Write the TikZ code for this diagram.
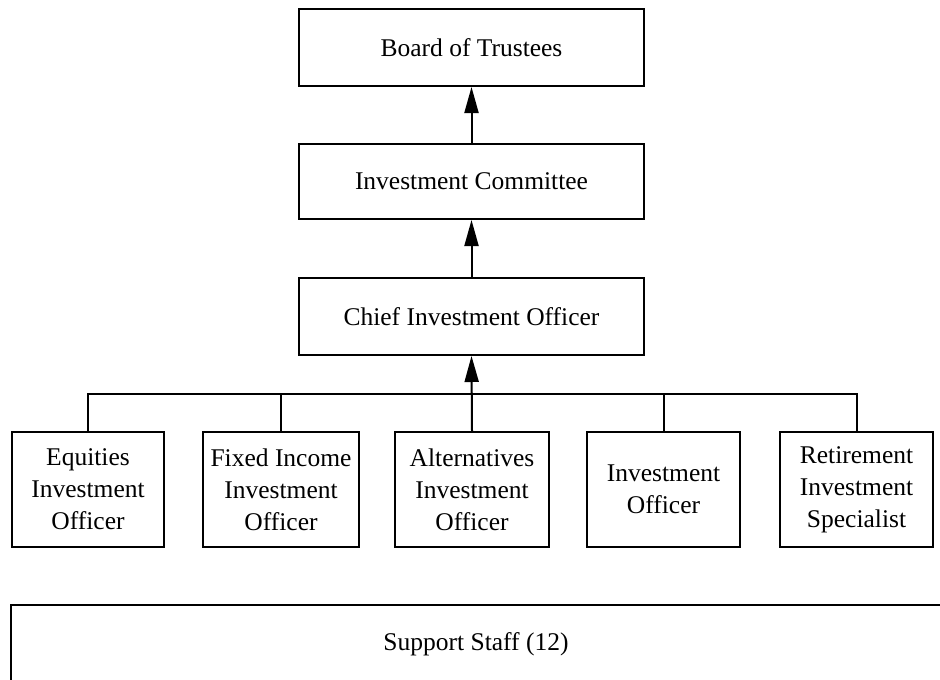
\documentclass[tikz,border=0pt]{standalone}
\usepackage{fontspec}
\setmainfont{Liberation Serif}
\usetikzlibrary{arrows.meta}
\begin{document}
\begin{tikzpicture}[x=1pt,y=-1pt,
  box/.style={draw,line width=2pt,align=center,inner sep=2pt,
    font=\fontsize{25.5}{32}\selectfont},
  conn/.style={line width=2pt},
  arr/.style={conn,-{Triangle[length=26pt,width=14pt]}}]
\useasboundingbox (0,0) rectangle (940,680);
\clip (0,0) rectangle (940,680);
\node[box,minimum width=345pt,minimum height=77pt] (board) at (471.5,47.5) {Board of Trustees};
\node[box,minimum width=345pt,minimum height=75pt] (comm) at (471.5,181.5) {Investment Committee};
\node[box,minimum width=345pt,minimum height=77pt] (chief) at (471.5,316.5) {Chief Investment Officer};
\node[box,minimum width=152pt,minimum height=115pt] (eq) at (88,489.5) {Equities\\Investment\\Officer};
\node[box,minimum width=156pt,minimum height=115pt] (fi) at (281,489.5) {Fixed Income\\Investment\\Officer};
\node[box,minimum width=154pt,minimum height=115pt] (alt) at (472,489.5) {Alternatives\\Investment\\Officer};
\node[box,minimum width=153pt,minimum height=115pt] (io) at (663.5,489.5) {Investment\\Officer};
\node[box,minimum width=153pt,minimum height=115pt] (ret) at (856.5,489.5) {Retirement\\Investment\\Specialist};
\node[box,minimum width=930pt,minimum height=78pt] (staff) at (476,644) {Support Staff (12)};
\coordinate (bus) at (472,394);
\draw[arr] (comm.north) -- (board.south);
\draw[arr] (chief.north) -- (comm.south);
\draw[arr] (alt.north) -- (chief.south);
\draw[conn] (eq.north) |- (bus) -| (ret.north);
\draw[conn] (fi.north) -- (fi.north |- bus);
\draw[conn] (io.north) -- (io.north |- bus);
\end{tikzpicture}
\end{document}
